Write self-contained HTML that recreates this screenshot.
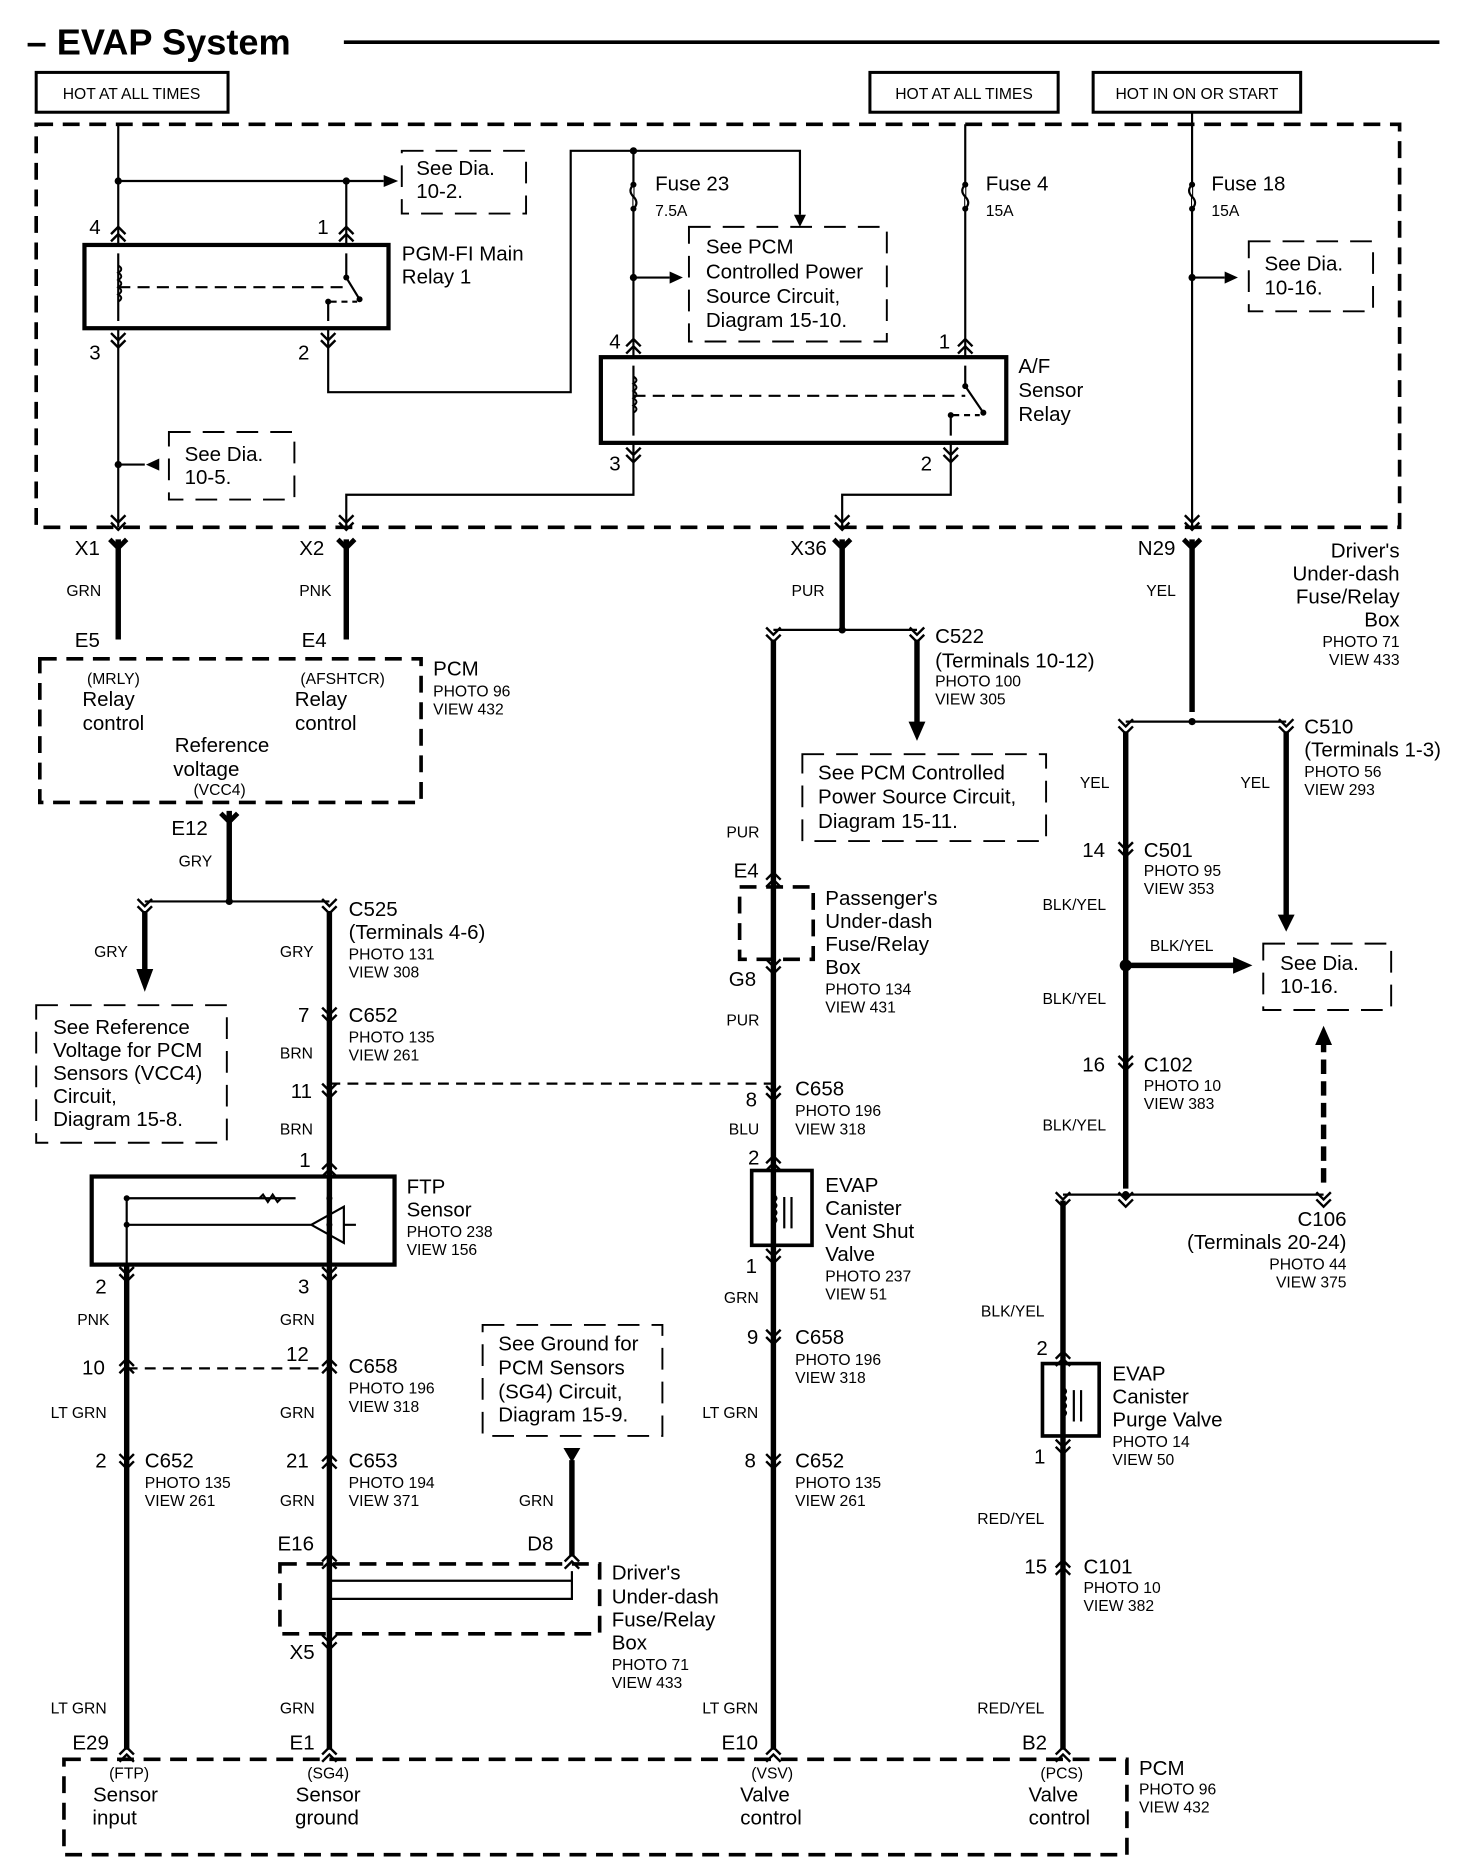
<!DOCTYPE html>
<html><head><meta charset="utf-8"><style>
html,body{margin:0;padding:0;background:#fff;}
svg{display:block;}
text{font-family:"Liberation Sans",sans-serif;fill:#000;}
.t{font-size:17px;}
.s{font-size:13px;}
.w{font-size:13px;}
</style></head><body>
<svg width="1472" height="1874" viewBox="0 0 1220 1553" preserveAspectRatio="none" xmlns="http://www.w3.org/2000/svg">
<defs>
<g id="cu"><path d="M-6,4 L0,-2 L6,4 M-6,10 L0,4 L6,10" fill="none" stroke="#000" stroke-width="2"/></g>
<g id="cd"><path d="M-6,-4 L0,2 L6,-4 M-6,-10 L0,-4 L6,-10" fill="none" stroke="#000" stroke-width="2"/></g>
<g id="X"><path d="M-7,-3 L0,4 L7,-3" fill="none" stroke="#000" stroke-width="4"/></g>
</defs>
<g fill="none" stroke="#000">
<!-- title -->
<line x1="285" y1="35" x2="1193" y2="35" stroke-width="3"/>
<rect x="30" y="60" width="159" height="33" stroke-width="2.5"/>
<rect x="721" y="60" width="156" height="33" stroke-width="2.5"/>
<rect x="906" y="60" width="172" height="33" stroke-width="2.5"/>
<rect x="30" y="103" width="1130" height="334" stroke-width="3" stroke-dasharray="14 8"/>
<!-- dashed reference boxes -->
<g stroke-width="1.6" stroke-dasharray="18 10">
<rect x="333" y="125" width="103" height="52"/>
<rect x="571" y="188" width="164" height="95"/>
<rect x="140" y="358" width="104" height="56"/>
<rect x="1035" y="200" width="103" height="58"/>
<rect x="665" y="625" width="202" height="72"/>
<rect x="30" y="833" width="158" height="114"/>
<rect x="1047" y="782" width="106" height="55"/>
<rect x="400" y="1098" width="149" height="92"/>
</g>
<g stroke-width="3" stroke-dasharray="14 8">
<rect x="33" y="546" width="316" height="119"/>
<rect x="613" y="735" width="61" height="60"/>
<rect x="232" y="1296" width="265" height="58"/>
<rect x="53" y="1458" width="881" height="79"/>
</g>
<!-- thin wires -->
<g stroke-width="1.8">
<path d="M98,103 V203 M98,272 V437"/>
<path d="M98,150 H318"/>
<path d="M287,150 V203"/>
<path d="M272,272 V325 H473 V125 H663 V178"/>
<path d="M525,125 V296"/>
<path d="M525,230 H555"/>
<path d="M525,367 V410 H287 V437"/>
<path d="M788,367 V410 H698 V437"/>
<path d="M800,103 V296"/>
<path d="M988,93 V437"/>
<path d="M988,230 H1015"/>
<path d="M98,385 H120"/>
<!-- relay internals -->
<path d="M98,210 V266 M287,210 V230 L298,248 M272,266 V250"/>
<path d="M98,238 H285" stroke-dasharray="10 6"/>
<path d="M274,250 H296" stroke-dasharray="5 4"/>
<path d="M525,303 V361 M800,303 V320 L815,342 M788,361 V344"/>
<path d="M525,328 H800" stroke-dasharray="10 6"/>
<path d="M790,344 H812" stroke-dasharray="5 4"/>
</g>
<rect x="70" y="203" width="252" height="69" stroke-width="3.5"/>
<rect x="498" y="296" width="336" height="71" stroke-width="3.5"/>
<!-- coils -->
<path d="M98,220 q5,3 0,6 q5,3 0,6 q5,3 0,6 q5,3 0,6 q5,3 0,6" stroke-width="1.6"/>
<path d="M525,312 q5,3 0,6 q5,3 0,6 q5,3 0,6 q5,3 0,6 q5,3 0,6" stroke-width="1.6"/>
<!-- fuses -->
<path d="M525,153 q-5,5 0,10 q5,5 0,10" stroke-width="1.8" fill="#fff"/>
<path d="M800,153 q-5,5 0,10 q5,5 0,10" stroke-width="1.8" fill="#fff"/>
<path d="M988,153 q-5,5 0,10 q5,5 0,10" stroke-width="1.8" fill="#fff"/>
<!-- thick wires -->
<g stroke-width="4.5">
<path d="M98,447 V530"/>
<path d="M287,447 V530"/>
<path d="M698,447 V520"/>
<path d="M988,447 V590"/>
<path d="M190,672 V745"/>
<path d="M120,755 V805"/>
<path d="M273,755 V1450"/>
<path d="M105,1048 V1450"/>
<path d="M474,1210 V1290"/>
<path d="M641,530 V1450"/>
<path d="M760,530 V600"/>
<path d="M933,606 V985"/>
<path d="M1066,606 V760"/>
<path d="M933,800 H1025"/>
<path d="M881,995 V1450"/>
<path d="M1097,980 V865" stroke-dasharray="12 6"/>
</g>
<g stroke-width="1.8">
<path d="M120,747 H273"/>
<path d="M641,522 H760"/>
<path d="M933,598 H1066"/>
<path d="M881,990 H1097"/>
<path d="M273,898 H641" stroke-dasharray="9 6"/>
<path d="M105,1134 H273" stroke-dasharray="9 6"/>
<path d="M273,1310 H474 V1302 M273,1325 H474 V1302"/>
<!-- FTP sensor internals -->
<path d="M273,985 V1035"/>
<path d="M105,993 H245 M105,1015 H258 M105,993 V1050 M258,1015 L285,1000 V1030 Z M285,1015 H295"/>
<path d="M215,993 l3,-3 l4,6 l4,-6 l4,6 l3,-3"/>
<!-- valves -->
<path d="M641,975 V1028 M881,1135 V1185"/>
<path d="M641,990 q5,3 0,6 q5,3 0,6 q5,3 0,6 q5,3 0,6 M650,992 V1018 M656,992 V1018"/>
<path d="M881,1150 q5,3 0,6 q5,3 0,6 q5,3 0,6 q5,3 0,6 M890,1152 V1178 M896,1152 V1178"/>
<path d="M641,735 V795"/>
</g>
<rect x="76" y="975" width="251" height="73" stroke-width="3.5"/>
<rect x="623" y="970" width="50" height="62" stroke-width="3"/>
<rect x="864" y="1130" width="47" height="60" stroke-width="3"/>
</g>
<!-- arrowheads & dots -->
<g fill="#000">
<path d="M318,145 L330,150 L318,155Z"/>
<path d="M658,178 L663,188 L668,178Z"/>
<path d="M555,225 L566,230 L555,235Z"/>
<path d="M1015,225 L1026,230 L1015,235Z"/>
<path d="M132,380 L121,385 L132,390Z"/>
<path d="M113,803 L120,822 L127,803Z"/>
<path d="M753,598 L760,614 L767,598Z"/>
<path d="M1059,758 L1066,772 L1073,758Z"/>
<path d="M1022,793 L1038,800 L1022,807Z"/>
<path d="M1090,866 L1097,850 L1104,866Z"/>
<path d="M467,1200 L481,1200 L474,1212Z"/>
<circle cx="98" cy="150" r="3"/><circle cx="287" cy="150" r="3"/>
<circle cx="525" cy="125" r="3"/><circle cx="525" cy="230" r="3"/>
<circle cx="98" cy="385" r="3"/><circle cx="988" cy="230" r="3"/>
<circle cx="525" cy="153" r="2.5"/><circle cx="525" cy="173" r="2.5"/>
<circle cx="800" cy="153" r="2.5"/><circle cx="800" cy="173" r="2.5"/>
<circle cx="988" cy="153" r="2.5"/><circle cx="988" cy="173" r="2.5"/>
<circle cx="287" cy="230" r="2.5"/><circle cx="298" cy="248" r="2.5"/><circle cx="272" cy="250" r="2.5"/>
<circle cx="800" cy="320" r="2.5"/><circle cx="815" cy="342" r="2.5"/><circle cx="788" cy="344" r="2.5"/>
<circle cx="190" cy="747" r="3"/><circle cx="698" cy="522" r="3"/><circle cx="988" cy="598" r="3"/>
<circle cx="933" cy="800" r="5"/><circle cx="933" cy="990" r="3"/>
<circle cx="105" cy="993" r="2.5"/><circle cx="105" cy="1015" r="2.5"/><circle cx="273" cy="993" r="2.5"/><circle cx="273" cy="1015" r="2.5"/>
</g>
<!-- connectors -->
<use href="#cu" x="98" y="190"/><use href="#cu" x="287" y="190"/>
<use href="#cd" x="98" y="286"/><use href="#cd" x="272" y="286"/>
<use href="#cu" x="525" y="283"/><use href="#cu" x="800" y="283"/>
<use href="#cd" x="525" y="381"/><use href="#cd" x="788" y="381"/>
<use href="#cd" x="98" y="437"/><use href="#cd" x="287" y="437"/><use href="#cd" x="698" y="437"/><use href="#cd" x="988" y="437"/>
<use href="#X" x="98" y="450"/><use href="#X" x="287" y="450"/><use href="#X" x="698" y="450"/><use href="#X" x="988" y="450"/>
<use href="#X" x="190" y="677"/>
<use href="#cd" x="641" y="530"/><use href="#cd" x="760" y="530"/>
<use href="#cd" x="933" y="606"/><use href="#cd" x="1066" y="606"/>
<use href="#cd" x="120" y="755"/><use href="#cd" x="273" y="755"/>
<use href="#cd" x="933" y="708"/><use href="#cd" x="933" y="885"/>
<use href="#cd" x="881" y="998"/><use href="#cd" x="933" y="998"/><use href="#cd" x="1097" y="998"/>
<use href="#cd" x="273" y="845"/><use href="#cd" x="273" y="908"/>
<use href="#cu" x="273" y="965"/><use href="#cd" x="273" y="1060"/><use href="#cd" x="105" y="1060"/>
<use href="#cu" x="105" y="1128"/><use href="#cu" x="273" y="1128"/>
<use href="#cd" x="105" y="1215"/><use href="#cu" x="273" y="1207"/>
<use href="#cu" x="273" y="1290"/><use href="#cd" x="273" y="1365"/><use href="#cu" x="474" y="1290"/>
<use href="#cu" x="105" y="1450"/><use href="#cu" x="273" y="1450"/><use href="#cu" x="641" y="1450"/><use href="#cu" x="881" y="1450"/>
<use href="#cu" x="641" y="725"/><use href="#cd" x="641" y="805"/>
<use href="#cd" x="641" y="910"/><use href="#cu" x="641" y="960"/><use href="#cd" x="641" y="1045"/>
<use href="#cd" x="641" y="1112"/><use href="#cd" x="641" y="1215"/>
<use href="#cu" x="881" y="1122"/><use href="#cd" x="881" y="1203"/><use href="#cu" x="881" y="1295"/>
<!-- text -->
<text x="22" y="45" style="font-size:30px;font-weight:bold">– EVAP System</text>
<text x="109" y="82" class="s" text-anchor="middle">HOT AT ALL TIMES</text>
<text x="799" y="82" class="s" text-anchor="middle">HOT AT ALL TIMES</text>
<text x="992" y="82" class="s" text-anchor="middle">HOT IN ON OR START</text>
<text class="t" x="345" y="145">See Dia.</text><text class="t" x="345" y="164">10-2.</text>
<text class="t" x="333" y="216">PGM-FI Main</text><text class="t" x="333" y="235">Relay 1</text>
<text class="t" x="74" y="194">4</text><text class="t" x="263" y="194">1</text>
<text class="t" x="74" y="298">3</text><text class="t" x="247" y="298">2</text>
<text class="t" x="543" y="158">Fuse 23</text><text class="w" x="543" y="179">7.5A</text>
<text class="t" x="817" y="158">Fuse 4</text><text class="w" x="817" y="179">15A</text>
<text class="t" x="1004" y="158">Fuse 18</text><text class="w" x="1004" y="179">15A</text>
<text class="t" x="585" y="210">See PCM</text><text class="t" x="585" y="231">Controlled Power</text><text class="t" x="585" y="251">Source Circuit,</text><text class="t" x="585" y="271">Diagram 15-10.</text>
<text class="t" x="1048" y="224">See Dia.</text><text class="t" x="1048" y="244">10-16.</text>
<text class="t" x="505" y="289">4</text><text class="t" x="778" y="289">1</text>
<text class="t" x="505" y="390">3</text><text class="t" x="763" y="390">2</text>
<text class="t" x="844" y="309">A/F</text><text class="t" x="844" y="329">Sensor</text><text class="t" x="844" y="349">Relay</text>
<text class="t" x="153" y="382">See Dia.</text><text class="t" x="153" y="401">10-5.</text>
<text class="t" x="62" y="460">X1</text><text class="t" x="248" y="460">X2</text><text class="t" x="655" y="460">X36</text><text class="t" x="943" y="460">N29</text>
<text class="w" x="55" y="494">GRN</text><text class="w" x="248" y="494">PNK</text><text class="w" x="656" y="494">PUR</text><text class="w" x="950" y="494">YEL</text>
<g class="t" text-anchor="end"><text x="1160" y="462">Driver's</text><text x="1160" y="481">Under-dash</text><text x="1160" y="500">Fuse/Relay</text><text x="1160" y="519">Box</text></g>
<text class="w" x="1160" y="536" text-anchor="end">PHOTO 71</text><text class="w" x="1160" y="551" text-anchor="end">VIEW 433</text>
<text class="t" x="62" y="536">E5</text><text class="t" x="250" y="536">E4</text>
<text class="t" x="359" y="560">PCM</text><text class="w" x="359" y="577">PHOTO 96</text><text class="w" x="359" y="592">VIEW 432</text>
<text class="w" x="94" y="567" text-anchor="middle">(MRLY)</text><text class="t" x="90" y="585" text-anchor="middle">Relay</text><text class="t" x="94" y="605" text-anchor="middle">control</text>
<text class="w" x="284" y="567" text-anchor="middle">(AFSHTCR)</text><text class="t" x="266" y="585" text-anchor="middle">Relay</text><text class="t" x="270" y="605" text-anchor="middle">control</text>
<text class="t" x="184" y="623" text-anchor="middle">Reference</text><text class="t" x="171" y="643" text-anchor="middle">voltage</text><text class="w" x="182" y="659" text-anchor="middle">(VCC4)</text>
<text class="t" x="775" y="533">C522</text><text class="t" x="775" y="553">(Terminals 10-12)</text><text class="w" x="775" y="569">PHOTO 100</text><text class="w" x="775" y="584">VIEW 305</text>
<text class="t" x="678" y="646">See  PCM  Controlled</text><text class="t" x="678" y="666">Power Source Circuit,</text><text class="t" x="678" y="686">Diagram 15-11.</text>
<text class="t" x="1081" y="608">C510</text><text class="t" x="1081" y="627">(Terminals 1-3)</text><text class="w" x="1081" y="644">PHOTO 56</text><text class="w" x="1081" y="659">VIEW 293</text>
<text class="w" x="895" y="653">YEL</text><text class="w" x="1028" y="653">YEL</text>
<text class="t" x="142" y="692">E12</text><text class="w" x="148" y="718">GRY</text>
<text class="t" x="289" y="759">C525</text><text class="t" x="289" y="778">(Terminals 4-6)</text><text class="w" x="289" y="795">PHOTO 131</text><text class="w" x="289" y="810">VIEW 308</text>
<text class="w" x="78" y="793">GRY</text><text class="w" x="232" y="793">GRY</text>
<text class="t" x="44" y="857">See Reference</text><text class="t" x="44" y="876">Voltage for PCM</text><text class="t" x="44" y="895">Sensors (VCC4)</text><text class="t" x="44" y="914">Circuit,</text><text class="t" x="44" y="933">Diagram 15-8.</text>
<text class="t" x="247" y="847">7</text><text class="t" x="289" y="847">C652</text><text class="w" x="289" y="864">PHOTO 135</text><text class="w" x="289" y="879">VIEW 261</text>
<text class="w" x="232" y="877">BRN</text>
<text class="t" x="241" y="910">11</text><text class="w" x="232" y="940">BRN</text><text class="t" x="248" y="967">1</text>
<text class="t" x="337" y="989">FTP</text><text class="t" x="337" y="1008">Sensor</text><text class="w" x="337" y="1025">PHOTO 238</text><text class="w" x="337" y="1040">VIEW 156</text>
<text class="t" x="79" y="1072">2</text><text class="t" x="247" y="1072">3</text>
<text class="w" x="64" y="1098">PNK</text><text class="w" x="232" y="1098">GRN</text>
<text class="t" x="68" y="1139">10</text><text class="t" x="237" y="1128">12</text>
<text class="t" x="289" y="1138">C658</text><text class="w" x="289" y="1155">PHOTO 196</text><text class="w" x="289" y="1170">VIEW 318</text>
<text class="w" x="42" y="1175">LT GRN</text><text class="w" x="232" y="1175">GRN</text>
<text class="t" x="79" y="1216">2</text><text class="t" x="120" y="1216">C652</text><text class="w" x="120" y="1233">PHOTO 135</text><text class="w" x="120" y="1248">VIEW 261</text>
<text class="t" x="237" y="1216">21</text><text class="t" x="289" y="1216">C653</text><text class="w" x="289" y="1233">PHOTO 194</text><text class="w" x="289" y="1248">VIEW 371</text>
<text class="w" x="232" y="1248">GRN</text><text class="w" x="430" y="1248">GRN</text>
<text class="t" x="413" y="1119">See Ground for</text><text class="t" x="413" y="1139">PCM Sensors</text><text class="t" x="413" y="1159">(SG4) Circuit,</text><text class="t" x="413" y="1178">Diagram 15-9.</text>
<text class="t" x="230" y="1285">E16</text><text class="t" x="437" y="1285">D8</text>
<text class="t" x="507" y="1309">Driver's</text><text class="t" x="507" y="1329">Under-dash</text><text class="t" x="507" y="1348">Fuse/Relay</text><text class="t" x="507" y="1367">Box</text><text class="w" x="507" y="1384">PHOTO 71</text><text class="w" x="507" y="1399">VIEW 433</text>
<text class="t" x="240" y="1375">X5</text>
<text class="w" x="42" y="1420">LT GRN</text><text class="w" x="232" y="1420">GRN</text><text class="w" x="582" y="1420">LT GRN</text><text class="w" x="810" y="1420">RED/YEL</text>
<text class="t" x="60" y="1450">E29</text><text class="t" x="240" y="1450">E1</text><text class="t" x="598" y="1450">E10</text><text class="t" x="847" y="1450">B2</text>
<text class="w" x="107" y="1474" text-anchor="middle">(FTP)</text><text class="t" x="104" y="1493" text-anchor="middle">Sensor</text><text class="t" x="95" y="1512" text-anchor="middle">input</text>
<text class="w" x="272" y="1474" text-anchor="middle">(SG4)</text><text class="t" x="272" y="1493" text-anchor="middle">Sensor</text><text class="t" x="271" y="1512" text-anchor="middle">ground</text>
<text class="w" x="640" y="1474" text-anchor="middle">(VSV)</text><text class="t" x="634" y="1493" text-anchor="middle">Valve</text><text class="t" x="639" y="1512" text-anchor="middle">control</text>
<text class="w" x="880" y="1474" text-anchor="middle">(PCS)</text><text class="t" x="873" y="1493" text-anchor="middle">Valve</text><text class="t" x="878" y="1512" text-anchor="middle">control</text>
<text class="t" x="944" y="1471">PCM</text><text class="w" x="944" y="1487">PHOTO 96</text><text class="w" x="944" y="1502">VIEW 432</text>
<text class="w" x="602" y="694">PUR</text><text class="t" x="608" y="727">E4</text>
<text class="t" x="684" y="750">Passenger's</text><text class="t" x="684" y="769">Under-dash</text><text class="t" x="684" y="788">Fuse/Relay</text><text class="t" x="684" y="807">Box</text><text class="w" x="684" y="824">PHOTO 134</text><text class="w" x="684" y="839">VIEW 431</text>
<text class="t" x="604" y="817">G8</text><text class="w" x="602" y="850">PUR</text>
<text class="t" x="618" y="917">8</text><text class="t" x="659" y="908">C658</text><text class="w" x="659" y="925">PHOTO 196</text><text class="w" x="659" y="940">VIEW 318</text>
<text class="w" x="604" y="940">BLU</text><text class="t" x="620" y="965">2</text>
<text class="t" x="684" y="988">EVAP</text><text class="t" x="684" y="1007">Canister</text><text class="t" x="684" y="1026">Vent Shut</text><text class="t" x="684" y="1045">Valve</text><text class="w" x="684" y="1062">PHOTO 237</text><text class="w" x="684" y="1077">VIEW 51</text>
<text class="t" x="618" y="1055">1</text><text class="w" x="600" y="1080">GRN</text>
<text class="t" x="619" y="1114">9</text><text class="t" x="659" y="1114">C658</text><text class="w" x="659" y="1131">PHOTO 196</text><text class="w" x="659" y="1146">VIEW 318</text>
<text class="w" x="582" y="1175">LT GRN</text>
<text class="t" x="617" y="1216">8</text><text class="t" x="659" y="1216">C652</text><text class="w" x="659" y="1233">PHOTO 135</text><text class="w" x="659" y="1248">VIEW 261</text>
<text class="t" x="897" y="710">14</text><text class="t" x="948" y="710">C501</text><text class="w" x="948" y="726">PHOTO 95</text><text class="w" x="948" y="741">VIEW 353</text>
<text class="w" x="864" y="754">BLK/YEL</text><text class="w" x="953" y="788">BLK/YEL</text><text class="w" x="864" y="832">BLK/YEL</text>
<text class="t" x="1061" y="804">See Dia.</text><text class="t" x="1061" y="823">10-16.</text>
<text class="t" x="897" y="888">16</text><text class="t" x="948" y="888">C102</text><text class="w" x="948" y="904">PHOTO 10</text><text class="w" x="948" y="919">VIEW 383</text>
<text class="w" x="864" y="937">BLK/YEL</text>
<g text-anchor="end"><text class="t" x="1116" y="1016">C106</text><text class="t" x="1116" y="1035">(Terminals 20-24)</text><text class="w" x="1116" y="1052">PHOTO 44</text><text class="w" x="1116" y="1067">VIEW 375</text></g>
<text class="w" x="813" y="1091">BLK/YEL</text><text class="t" x="859" y="1123">2</text>
<text class="t" x="922" y="1144">EVAP</text><text class="t" x="922" y="1163">Canister</text><text class="t" x="922" y="1182">Purge Valve</text><text class="w" x="922" y="1199">PHOTO 14</text><text class="w" x="922" y="1214">VIEW 50</text>
<text class="t" x="857" y="1213">1</text><text class="w" x="810" y="1263">RED/YEL</text>
<text class="t" x="849" y="1304">15</text><text class="t" x="898" y="1304">C101</text><text class="w" x="898" y="1320">PHOTO 10</text><text class="w" x="898" y="1335">VIEW 382</text>
</svg>
</body></html>
